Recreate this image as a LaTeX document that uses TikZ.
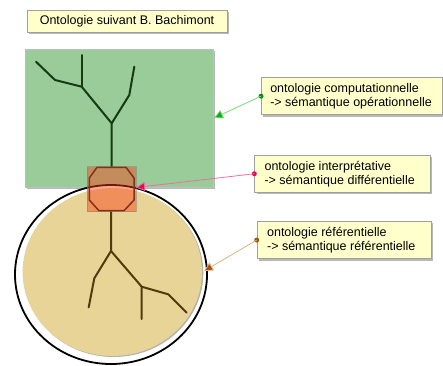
\documentclass[tikz,border=0pt]{standalone}
\usepackage{fontspec}
\setmainfont{Liberation Sans}
\usetikzlibrary{arrows.meta,shadows}
\definecolor{rectgreen}{RGB}{153,204,153}
\definecolor{treegreen}{RGB}{20,60,15}
\definecolor{beige}{RGB}{232,212,150}
\definecolor{treebrown}{RGB}{80,60,10}
\definecolor{sqred}{RGB}{250,60,20}
\definecolor{octbrown}{RGB}{130,50,25}
\definecolor{noteyellow}{RGB}{255,255,204}
\definecolor{notegray}{RGB}{160,160,160}
\definecolor{linkgreen}{RGB}{120,220,120}
\definecolor{tipgreen}{RGB}{20,170,20}
\definecolor{linkpink}{RGB}{240,110,160}
\definecolor{tippink}{RGB}{230,10,80}
\definecolor{linktan}{RGB}{220,180,130}
\definecolor{tipbrown}{RGB}{170,80,10}
\tikzset{
  note/.style={draw=notegray, fill=noteyellow, line width=0.8pt,
    drop shadow={shadow xshift=2pt, shadow yshift=-2pt, fill=gray!70, opacity=0.8},
    font=\fontsize{12.5}{14}\selectfont, align=flush left, inner xsep=0pt, inner ysep=0pt,
    anchor=north west},
  treeA/.style={draw=treegreen, line width=2pt, line join=round, line cap=round},
  treeB/.style={draw=treebrown, line width=2pt, line join=round, line cap=round},
  dot/.style={circle, inner sep=0pt, minimum size=5pt},
}
\begin{document}
\begin{tikzpicture}[x=1pt,y=-1pt]
\useasboundingbox (0,0) rectangle (443,365);
% title
\node[note, minimum width=200pt, minimum height=22pt, align=center, anchor=center] (title) at (127,21) {Ontologie suivant B. Bachimont};
% green rectangle
\path[fill=rectgreen, draw=gray!50, line width=0.5pt,
  drop shadow={shadow xshift=1.5pt, shadow yshift=-1.5pt, fill=gray!70, opacity=0.8}] (25,49) rectangle (213,187);
\coordinate (greenE) at (214,118);
% outer ellipse
\draw[black, line width=1.8pt, fill=white] (111,274.5) ellipse [x radius=96, y radius=89.5];
% inner beige ellipse
\fill[gray!60] (113.5,273) ellipse [x radius=89.8, y radius=84];
\fill[beige] (112.3,272) ellipse [x radius=89.7, y radius=84];
\coordinate (circE) at (204,271);
% top tree
\draw[treeA] (111.7,166.7) -- (111.7,123.3) -- (81.7,86.7) -- (55,80) -- (36,61.7);
\draw[treeA] (81.7,86.7) -- (81.7,55);
\draw[treeA] (111.7,123.3) -- (129.3,95) -- (134.3,66.7);
% bottom tree
\draw[treeB] (111,211.7) -- (111,251) -- (94.3,278.3) -- (88.7,307.3);
\draw[treeB] (111,251) -- (141.7,286.7) -- (141.7,319);
\draw[treeB] (141.7,286.7) -- (168.3,294.3) -- (186.7,312.7);
% square
\fill[sqred, opacity=0.45] (87,166.5) rectangle (136,211.5);
\draw[gray, opacity=0.5, line width=0.5pt] (87,166.5) rectangle (136,211.5);
\coordinate (sqE) at (136,187.5);
% octagon
\draw[octbrown, line width=1.5pt, line join=round] (97,167.3) -- (126,167.3) -- (134,178) -- (134,200) -- (124,210.7) -- (99,210.7) -- (89.3,200) -- (89.3,178) -- cycle;
% notes
\node[note, minimum width=180.7pt, minimum height=37pt, text width=163pt, inner xsep=8.85pt] (n1) at (261,77.3) {ontologie computationnelle\\-> sémantique opérationnelle};
\node[note, minimum width=175.7pt, minimum height=36.7pt, text width=156pt, inner xsep=9.85pt] (n2) at (254.3,155) {ontologie interprétative\\-> sémantique différentielle};
\node[note, minimum width=174pt, minimum height=37.3pt, text width=154pt, inner xsep=10pt] (n3) at (256.7,221) {ontologie référentielle\\-> sémantique référentielle};
% links
\node[dot, fill=tipgreen!80!black] (d1) at (n1.west) {};
\node[dot, fill=tippink] (d2) at (n2.west) {};
\node[dot, fill=tipbrown] (d3) at (n3.west) {};
\draw[linkgreen, line width=0.8pt, -{Triangle[length=9pt,width=9pt,fill=tipgreen]}] (d1.center) -- (greenE);
\draw[linkpink, line width=0.8pt, -{Triangle[length=9pt,width=9pt,fill=tippink]}] (d2.center) -- (sqE);
\draw[linktan, line width=0.8pt, -{Triangle[length=9pt,width=9pt,fill=tipbrown]}] (d3.center) -- (circE);
\end{tikzpicture}
\end{document}
